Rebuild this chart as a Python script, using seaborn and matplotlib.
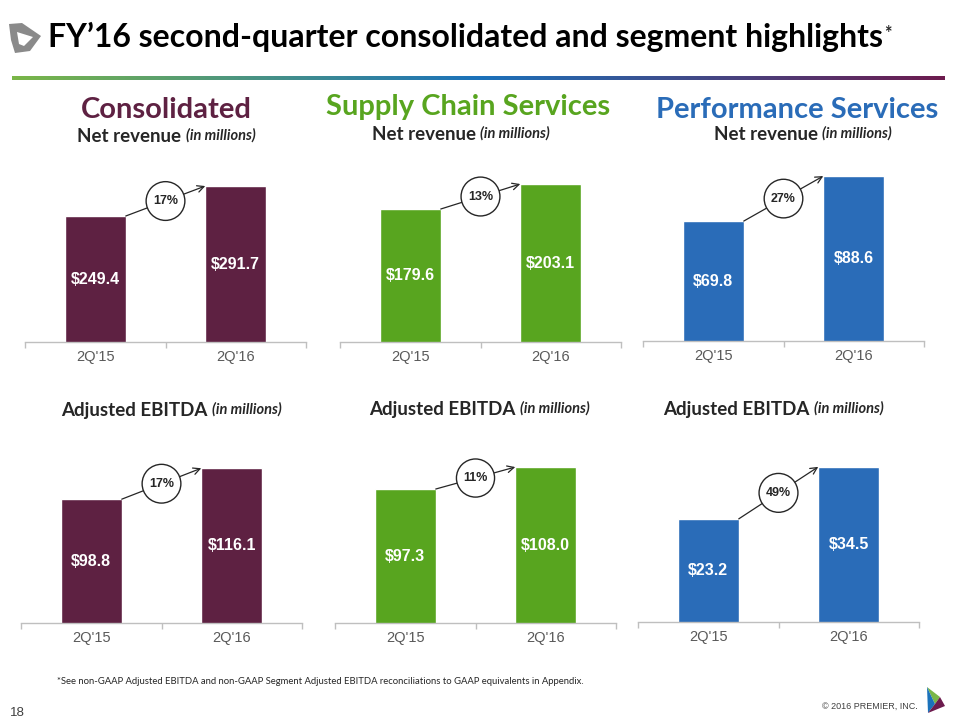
import numpy as np
import pandas as pd
import matplotlib
matplotlib.use("Agg")
import matplotlib.pyplot as plt
import seaborn as sns
from matplotlib.patches import Polygon
from matplotlib.colors import LinearSegmentedColormap

# data
quarters = ["2Q'15", "2Q'16"]
consolidated_revenue = [249.4, 291.7]
supply_revenue = [179.6, 203.1]
performance_revenue = [69.8, 88.6]
consolidated_ebitda = [98.8, 116.1]
supply_ebitda = [97.3, 108.0]
performance_ebitda = [23.2, 34.5]
growth_labels = ["17%", "13%", "27%", "17%", "11%", "49%"]
segment_names = ["Consolidated", "Supply Chain Services", "Performance Services"]

maroon = "#5e2142"
green = "#58a51f"
blue = "#2a6cb8"

sns.set_theme(style="white")
plt.rcParams['font.family'] = ['Lato', 'DejaVu Sans']

fig = plt.figure(figsize=(9.6, 7.2), dpi=100)

# full-page canvas in pixel coordinates for the slide text
canvas = fig.add_axes([0, 0, 1, 1])
canvas.set_xlim(0, 960)
canvas.set_ylim(720, 0)
canvas.axis('off')

# title + logo
title = canvas.text(48, 47, "FY\u201916 second-quarter consolidated and segment highlights",
                    fontsize=23, fontweight='bold', color='black', va='baseline')
canvas.annotate("*", xy=(1, 1), xycoords=title, xytext=(1, -2), textcoords='offset points',
                fontsize=13, fontweight='bold', va='top', ha='left')
canvas.add_patch(Polygon([(9, 24), (22, 23), (41, 36), (30, 51), (15, 53), (11, 40)],
                         closed=True, fc='#8a8a8a', ec='none'))
canvas.add_patch(Polygon([(17, 32), (33, 37), (24, 46), (19, 44)],
                         closed=True, fc='white', ec='none'))

# gradient rule under the title
grad_ax = fig.add_axes([12 / 960, 1 - 80 / 720, 933 / 960, 4 / 720])
grad_ax.imshow(np.linspace(0, 1, 256)[None, :], aspect='auto',
               cmap=LinearSegmentedColormap.from_list('rule', ['#7ab648', '#1b72bb', '#6d1b4e']))
grad_ax.axis('off')

# segment headers
canvas.text(166, 118, segment_names[0], fontsize=21, fontweight='bold', color=maroon, ha='center', va='baseline')
canvas.text(468, 115, segment_names[1], fontsize=21, fontweight='bold', color=green, ha='center', va='baseline')
canvas.text(797, 118, segment_names[2], fontsize=21, fontweight='bold', color=blue, ha='center', va='baseline')


def subtitle(x, y, main):
    t = canvas.text(x, y, main + " ", fontsize=13.5, fontweight='bold', va='baseline')
    canvas.annotate("(in millions)", xy=(1, 0), xycoords=t, xytext=(0, 1.5), textcoords='offset points',
                    fontsize=10.5, fontweight='bold', fontstyle='italic', va='bottom')


subtitle(77, 142, "Net revenue")
subtitle(372, 140, "Net revenue")
subtitle(714, 140, "Net revenue")
subtitle(61, 416, "Adjusted EBITDA")
subtitle(369, 415, "Adjusted EBITDA")
subtitle(663, 415, "Adjusted EBITDA")

# six bar panels: values, colour, left px, baseline px, y-limits
panels = [
    (consolidated_revenue, maroon, 25, 342, 71.7, 325.6, growth_labels[0]),
    (supply_revenue, green, 340, 342, 54.6, 223.8, growth_labels[1]),
    (performance_revenue, blue, 643, 341, 19.7, 94.9, growth_labels[2]),
    (consolidated_ebitda, maroon, 21, 623, 29.6, 130.2, growth_labels[3]),
    (supply_ebitda, green, 335, 623, 32.1, 119.7, growth_labels[4]),
    (performance_ebitda, blue, 638, 622, 0.8, 39.9, growth_labels[5]),
]
bar_w = 0.434

for vals, color, x0, base, ylo, yhi, growth in panels:
    ax = fig.add_axes([x0 / 960, 1 - base / 720, 281 / 960, 180 / 720])
    df = pd.DataFrame({"quarter": quarters, "value": vals})
    sns.barplot(data=df, x="quarter", y="value", color=color, width=bar_w,
                saturation=1, errorbar=None, ax=ax)
    ax.set_xlim(-0.5, 1.5)
    ax.set_ylim(ylo, yhi)
    ax.set_xlabel("")
    ax.set_ylabel("")
    ax.set_yticks([])
    ax.patch.set_alpha(0)
    for s in ['top', 'left', 'right']:
        ax.spines[s].set_visible(False)
    ax.spines['bottom'].set_color('#bfbfbf')
    ax.spines['bottom'].set_linewidth(1)
    ax.set_xticks([-0.5, 0.5, 1.5], minor=True)
    ax.tick_params(axis='x', which='minor', bottom=True, length=4, width=1, color='#bfbfbf')
    ax.tick_params(axis='x', which='major', bottom=True, length=0, pad=6, labelsize=10.5, labelcolor='#595959')
    for lbl in ax.get_xticklabels():
        lbl.set_fontfamily('Liberation Sans')

    for i, v in enumerate(vals):
        ax.text(i, (ylo + v) / 2, f"${v:.1f}", ha='center', va='center', color='white',
                fontsize=11.5, fontweight='bold', family='Liberation Sans')

    ax.annotate("", xy=(1 - bar_w / 2, vals[1]), xytext=(bar_w / 2, vals[0]),
                arrowprops=dict(arrowstyle='->', color='#262626', lw=0.9,
                                shrinkA=0, shrinkB=0, mutation_scale=12),
                zorder=4, annotation_clip=False)
    ax.text(0.5, (vals[0] + vals[1]) / 2, growth, ha='center', va='center', fontsize=9,
            fontweight='bold', family='Liberation Sans', zorder=5, clip_on=False,
            bbox=dict(boxstyle='circle,pad=0.55', fc='white', ec='#262626', lw=1))

# footer
canvas.text(57, 684, "*See non-GAAP Adjusted EBITDA and non-GAAP Segment Adjusted EBITDA "
            "reconciliations to GAAP equivalents in Appendix.", fontsize=6.8, va='baseline')
canvas.text(10, 716, "18", fontsize=9.5, color='#404040', family='Liberation Sans', va='baseline')
canvas.text(918, 709, "\u00a9 2016 PREMIER, INC.", fontsize=6.5, color='#404040',
            family='Liberation Sans', ha='right', va='baseline')
canvas.add_patch(Polygon([(927, 687), (940, 697), (935, 704)], closed=True, fc='#7ab648', ec='none'))
canvas.add_patch(Polygon([(927, 687), (935, 704), (928, 713)], closed=True, fc='#1b72bb', ec='none'))
canvas.add_patch(Polygon([(940, 697), (945, 706), (928, 713), (935, 704)], closed=True, fc='#6d1b4e', ec='none'))

fig.savefig("out.png", dpi=100)
